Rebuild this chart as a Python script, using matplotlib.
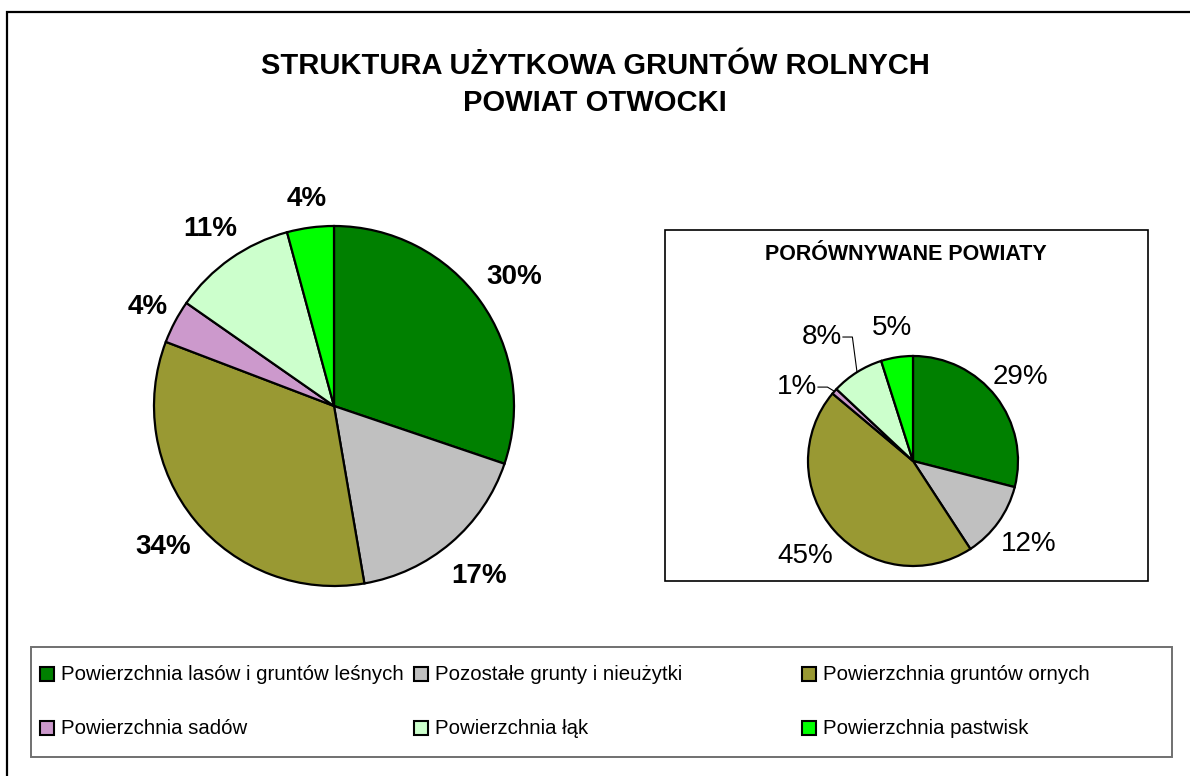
import math

import matplotlib
matplotlib.use("Agg")
import matplotlib.pyplot as plt
from matplotlib.patches import Rectangle


W, H = 1190, 776

TITLE_LINES = ["STRUKTURA UŻYTKOWA GRUNTÓW ROLNYCH", "POWIAT OTWOCKI"]
INSET_TITLE = "PORÓWNYWANE POWIATY"

categories = [
    "Powierzchnia lasów i gruntów leśnych",
    "Pozostałe grunty i nieużytki",
    "Powierzchnia gruntów ornych",
    "Powierzchnia sadów",
    "Powierzchnia łąk",
    "Powierzchnia pastwisk",
]
colors = ["#008000", "#C0C0C0", "#999933", "#CC99CC", "#CCFFCC", "#00FF00"]

# share of each category (%)
otwocki = [30.2, 17.1, 33.5, 3.9, 11.1, 4.2]
compared = [29.0, 11.8, 45.3, 0.9, 8.1, 4.9]

plt.rcParams["font.family"] = ["Liberation Sans", "DejaVu Sans"]


def fx(x):
    return x / W


def fy(y):
    return 1 - y / H


def draw_pie(fig, cx, cy, r, values):
    ax = fig.add_axes([fx(cx - r), fy(cy + r), 2 * r / W, 2 * r / H])
    wedges, _ = ax.pie(
        values, colors=colors, startangle=90, counterclock=False, radius=1,
        wedgeprops=dict(edgecolor="black", linewidth=1.6),
    )
    for w in wedges:
        w.set_clip_on(False)
    # pie() sets its own limits, so set them afterwards
    ax.set_xlim(-1, 1)
    ax.set_ylim(-1, 1)
    ax.set_aspect("equal")
    ax.axis("off")
    return ax, wedges


def mid_angle(w):
    return math.radians((w.theta1 + w.theta2) / 2)


def main():
    fig = plt.figure(figsize=(W / 100, H / 100), dpi=100)

    # outer frame
    fig.patches.append(Rectangle((fx(7), fy(790)), fx(1200) - fx(7), fy(12) - fy(790),
                                 transform=fig.transFigure, fill=False,
                                 edgecolor="black", linewidth=1.6))

    for text, y in zip(TITLE_LINES, [66, 103]):
        fig.text(0.5, fy(y), text, ha="center", va="center", fontsize=21,
                 fontweight="bold")

    # main pie
    ax, wedges = draw_pie(fig, 334, 406, 180, otwocki)
    dists = [1.23, 1.24, 1.23, 1.17, 1.2, 1.16]
    for w, v, d in zip(wedges, otwocki, dists):
        a = mid_angle(w)
        ax.text(d * math.cos(a), d * math.sin(a), f"{v:.0f}%", ha="center",
                va="center", fontsize=20, fontweight="bold", clip_on=False)

    # inset box
    fig.patches.append(Rectangle((fx(665), fy(581)), fx(1148) - fx(665), fy(230) - fy(581),
                                 transform=fig.transFigure, fill=False,
                                 edgecolor="black", linewidth=1.2))
    fig.text(fx(906), fy(255), INSET_TITLE, ha="center", va="center",
             fontsize=15.5, fontweight="bold")

    ax2, wedges2 = draw_pie(fig, 913, 461, 105, compared)
    # (angle in degrees, distance) for labels moved off their wedge
    moved = {3: (147.5, 1.31), 4: (126.3, 1.465)}
    dists2 = [1.3, 1.36, 1.37, 0, 0, 1.28]
    for i, (w, v) in enumerate(zip(wedges2, compared)):
        a = mid_angle(w)
        if i in moved:
            ang, d = moved[i]
            tx, ty = d * math.cos(math.radians(ang)), d * math.sin(math.radians(ang))
            ex, ey = math.cos(a), math.sin(a)
            kx = tx + 0.29
            ax2.plot([tx + 0.2, kx, ex], [ty, ty, ey], color="black",
                     linewidth=0.8, clip_on=False)
        else:
            d = dists2[i]
            tx, ty = d * math.cos(a), d * math.sin(a)
        ax2.text(tx, ty, f"{v:.0f}%", ha="center", va="center", fontsize=20,
                 clip_on=False)

    # legend
    fig.patches.append(Rectangle((fx(31), fy(757)), fx(1172) - fx(31), fy(647) - fy(757),
                                 transform=fig.transFigure, fill=False,
                                 edgecolor="#707070", linewidth=1.4))
    col_x = [40, 414, 802]
    row_y = [674, 728]
    box = 14
    for i, (name, c) in enumerate(zip(categories, colors)):
        x = col_x[i % 3]
        y = row_y[i // 3]
        fig.patches.append(Rectangle((fx(x), fy(y + box / 2)), box / W, box / H,
                                     transform=fig.transFigure, facecolor=c,
                                     edgecolor="black", linewidth=1.5))
        fig.text(fx(x + 21), fy(y), name, ha="left", va="center", fontsize=14.7)

    fig.savefig("out.png", dpi=100)


if __name__ == "__main__":
    main()
